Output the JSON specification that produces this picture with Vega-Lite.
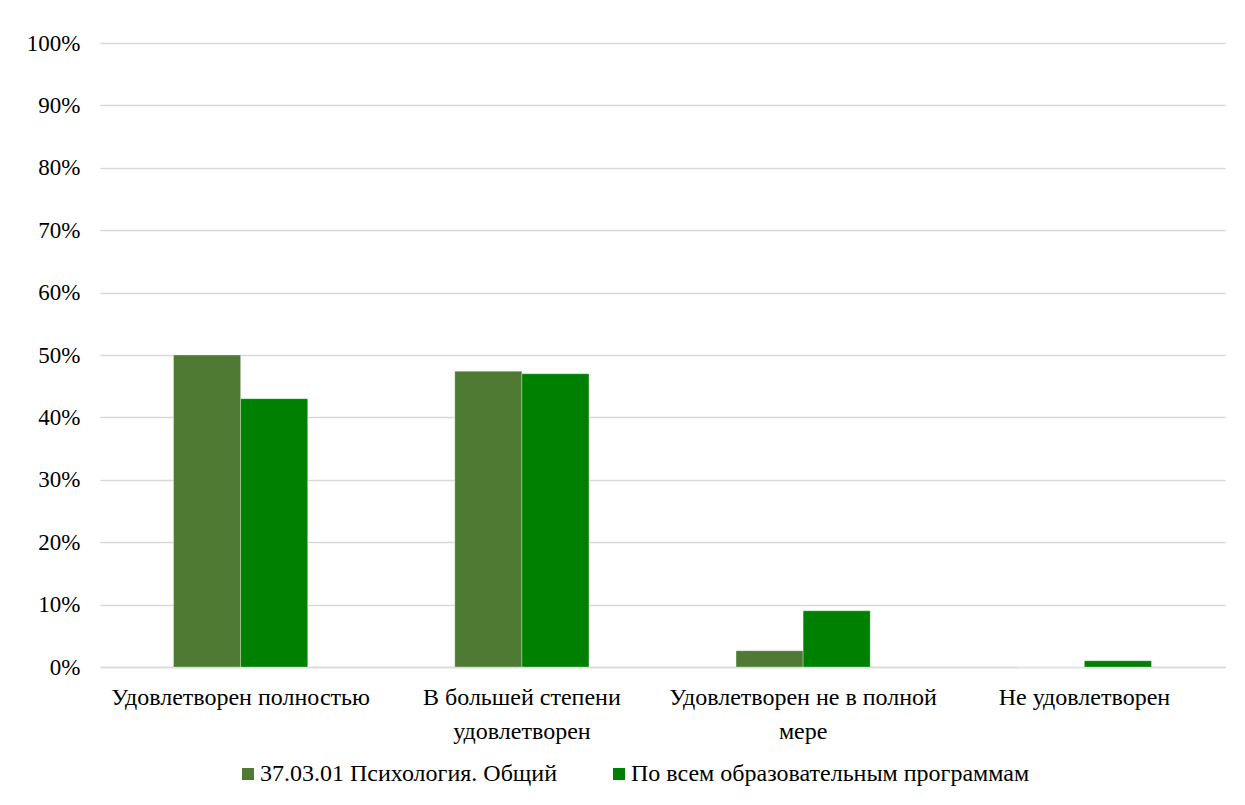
{
  "$schema": "https://vega.github.io/schema/vega-lite/v6.json",
  "autosize": {"type": "none"},
  "width": 1125,
  "height": 624,
  "padding": {"left": 100, "top": 43, "right": 20, "bottom": 138},
  "background": "#ffffff",
  "config": {
    "view": {"stroke": null},
    "font": "Liberation Serif, Times New Roman, serif"
  },
  "data": {
    "values": [
      {"category": "Удовлетворен полностью", "series": "37.03.01 Психология. Общий", "value": 0.50},
      {"category": "Удовлетворен полностью", "series": "По всем образовательным программам", "value": 0.43},
      {"category": "В большей степени удовлетворен", "series": "37.03.01 Психология. Общий", "value": 0.474},
      {"category": "В большей степени удовлетворен", "series": "По всем образовательным программам", "value": 0.47},
      {"category": "Удовлетворен не в полной мере", "series": "37.03.01 Психология. Общий", "value": 0.026},
      {"category": "Удовлетворен не в полной мере", "series": "По всем образовательным программам", "value": 0.09},
      {"category": "Не удовлетворен", "series": "37.03.01 Психология. Общий", "value": 0.0},
      {"category": "Не удовлетворен", "series": "По всем образовательным программам", "value": 0.01}
    ]
  },
  "mark": {"type": "bar", "stroke": "#ffffff", "strokeWidth": 0.5, "strokeOpacity": 0.6},
  "encoding": {
    "x": {
      "field": "category",
      "type": "nominal",
      "sort": null,
      "title": null,
      "scale": {"paddingInner": 0.523, "paddingOuter": 0.2615},
      "axis": {
        "labelAngle": 0,
        "labelFont": "Liberation Serif, Times New Roman, serif",
        "labelFontSize": 24,
        "labelColor": "#000000",
        "labelPadding": 37,
        "labelLineHeight": 34,
        "labelBaseline": "alphabetic",
        "labelLimit": 0,
        "ticks": false,
        "domain": true,
        "domainColor": "#d9d9d9",
        "domainWidth": 1.5,
        "labelExpr": "datum.label == 'В большей степени удовлетворен' ? ['В большей степени', 'удовлетворен'] : datum.label == 'Удовлетворен не в полной мере' ? ['Удовлетворен не в полной', 'мере'] : datum.label"
      }
    },
    "xOffset": {"field": "series", "type": "nominal", "sort": null, "scale": {"paddingInner": 0, "paddingOuter": 0}},
    "y": {
      "field": "value",
      "type": "quantitative",
      "title": null,
      "scale": {"domain": [0, 1]},
      "axis": {
        "values": [0, 0.1, 0.2, 0.3, 0.4, 0.5, 0.6, 0.7, 0.8, 0.9, 1.0],
        "format": ".0%",
        "labelFont": "Liberation Serif, Times New Roman, serif",
        "labelFontSize": 23,
        "labelColor": "#000000",
        "labelPadding": 20,
        "ticks": false,
        "domain": false,
        "grid": true,
        "gridColor": "#d9d9d9",
        "gridWidth": 1.5
      }
    },
    "color": {
      "field": "series",
      "type": "nominal",
      "sort": null,
      "scale": {"range": ["#4f7a34", "#008000"]},
      "legend": {
        "title": null,
        "orient": "none",
        "direction": "horizontal",
        "legendX": 136,
        "legendY": 719,
        "symbolType": "square",
        "symbolSize": 144,
        "symbolStrokeWidth": 0,
        "labelFont": "Liberation Serif, Times New Roman, serif",
        "labelFontSize": 24,
        "labelColor": "#000000",
        "labelOffset": 0,
        "labelLimit": 0,
        "columnPadding": 49
      }
    }
  }
}
